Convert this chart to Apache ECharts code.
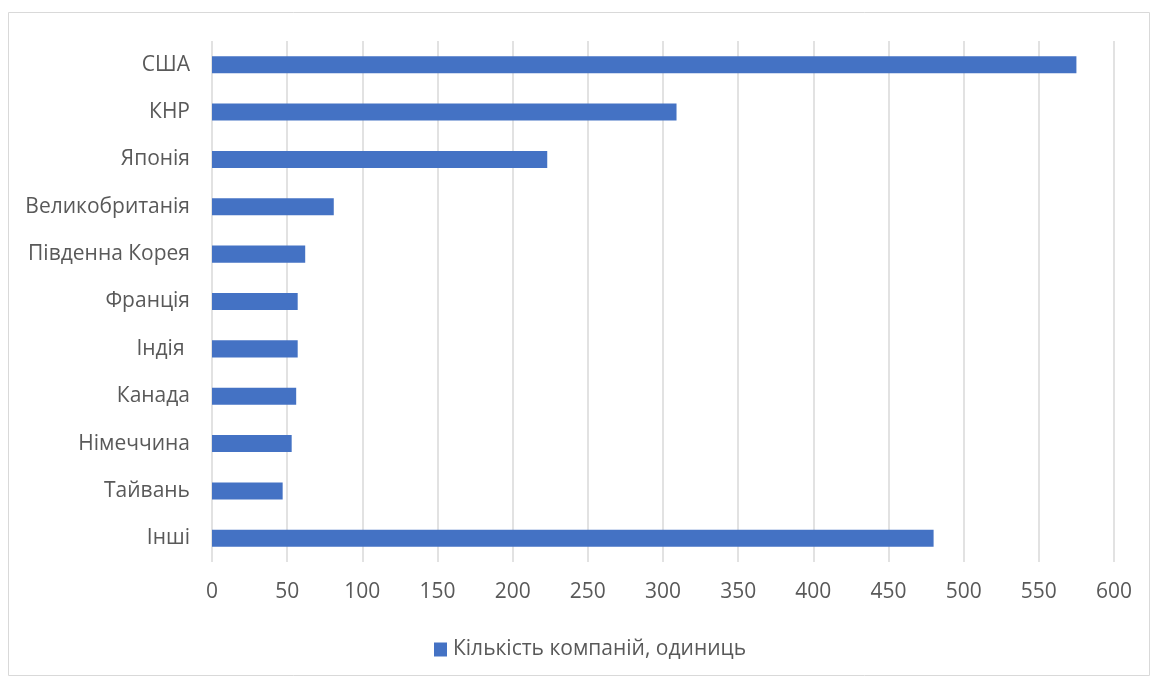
<!DOCTYPE html>
<html><head><meta charset="utf-8">
<script src="https://cdn.jsdelivr.net/npm/echarts@6/dist/echarts.min.js"></script>
<style>html,body{margin:0;padding:0;background:#fff}#c{width:1151px;height:677px}</style>
</head><body><div id="c"></div>
<script>
const categories = ["США","КНР","Японія","Великобританія","Південна Корея","Франція","Індія ","Канада","Німеччина","Тайвань","Інші"];
const values = [575,309,223,81,62,57,57,56,53,47,480];
const seriesName = "Кількість компаній, одиниць";
const xTicks = {min:0,max:600,interval:50};

const chart = echarts.init(document.getElementById('c'));
const font = "'Open Sans', 'Noto Sans', sans-serif";
chart.setOption({
  animation:false,
  graphic:[{type:'rect',shape:{x:8.5,y:12.5,width:1141,height:663},style:{fill:'none',stroke:'#d9d9d9',lineWidth:1},silent:true}],
  grid:{left:212,right:37,top:41,bottom:115,containLabel:false},
  legend:{left:429,top:634,itemWidth:13,itemHeight:14,itemGap:6,icon:'rect',
    textStyle:{fontFamily:font,fontSize:21,color:'#595959',padding:[0,0,0,1]},data:[seriesName]},
  xAxis:{type:'value',min:xTicks.min,max:xTicks.max,interval:xTicks.interval,
    axisLine:{show:false},axisTick:{show:false},
    splitLine:{lineStyle:{color:'#d9d9d9',width:1.5}},
    axisLabel:{fontFamily:font,fontSize:21,color:'#595959',margin:20}},
  yAxis:{type:'category',inverse:true,data:categories,
    axisLine:{show:false},axisTick:{show:false},
    axisLabel:{fontFamily:font,fontSize:21,color:'#595959',margin:22}},
  series:[{name:seriesName,type:'bar',data:values,barWidth:'36%',
    itemStyle:{color:'#4472c4'}}]
});
</script></body></html>
